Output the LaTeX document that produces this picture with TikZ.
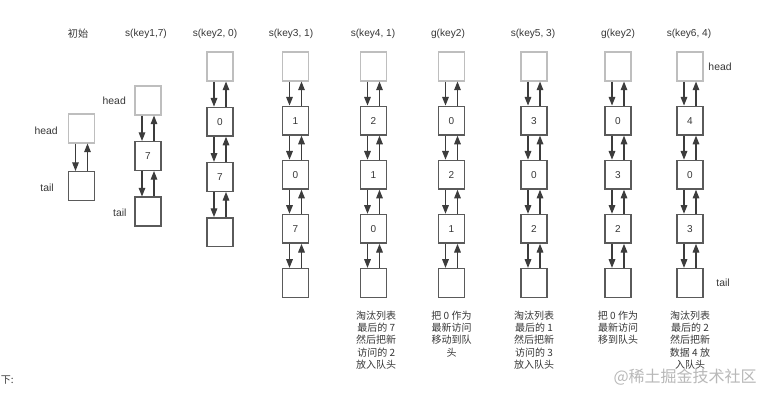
\documentclass[tikz,border=0pt]{standalone}
\usepackage{fontspec}
\setmainfont{Liberation Sans}
\newfontfamily\cjk{Noto Sans CJK SC}
\usepackage{xcolor}
\usepackage{tikz}
\usetikzlibrary{positioning,arrows.meta}
\definecolor{boxgray}{RGB}{90,90,90}
\definecolor{headgray}{RGB}{190,190,190}
\definecolor{linkgray}{RGB}{60,60,60}
\definecolor{textgray}{RGB}{55,55,55}

\begin{document}
\begin{tikzpicture}[x=0.75pt, y=-0.75pt,
					box/.style={
						draw=boxgray, line width=1.1pt, fill=white,
						minimum width=19.2pt, minimum height=21.5pt, inner sep=0pt,
						font=\fontsize{7.5}{9}\selectfont, text=textgray
					},
					headbox/.style={box, draw=headgray},
					link/.style={draw=linkgray, line width=0.8pt, -{Triangle[length=6.5pt,width=5pt]}},
					title/.style={font=\fontsize{7.6}{9}\selectfont, text=textgray},
					endlabel/.style={font=\fontsize{7.8}{9}\selectfont, text=textgray, inner sep=0pt},
					note/.style={font=\cjk\fontsize{7.5}{9.2}\selectfont, text=textgray, align=center, inner sep=0pt}
					]
					\useasboundingbox[fill=white] (0,0) rectangle (771,400);
					% Mỗi cột: head, các phần tử, tail
					\foreach \col/\cx/\cy/\dy/\n/\vals in {
						1/81.5/128.5/57.5/0/{},
						2/148/100.5/55.5/1/{7},
						3/220/66.5/55.2/2/{0,7},
						4/295.5/66.5/54.1/3/{1,0,7},
						5/373.5/66.5/54.1/3/{2,1,0},
						6/451.5/66.5/54.1/3/{0,2,1},
						7/534/66.5/54.1/3/{3,0,2},
						8/618/66.5/54.1/3/{0,3,2},
						9/690/66.5/54.1/3/{4,0,3}}{
						\node[headbox] (c\col-0) at (\cx,\cy) {};
						\ifnum\n>0
							\foreach \v [count=\i] in \vals {
								\node[box] (c\col-\i) at (\cx,\cy+\i*\dy) {\v};
							}
						\fi
						\pgfmathtruncatemacro\last{\n+1}
						\node[box] (c\col-\last) at (\cx,\cy+\last*\dy) {};
						% mũi tên hai chiều giữa các ô
						\foreach \i in {1,...,\last}{
							\pgfmathtruncatemacro\j{\i-1}
							\draw[link] ([xshift=-4.5pt]c\col-\j.south) -- ([xshift=-4.5pt]c\col-\i.north);
							\draw[link] ([xshift=4.5pt]c\col-\i.north) -- ([xshift=4.5pt]c\col-\j.south);
						}
					}
					% Tiêu đề các bước
					\node[title] (t1) at (78,34)  {\cjk 初始};
					\node[title] (t2) at (146,34) {s(key1,7)};
					\node[title] (t3) at (215,34) {s(key2, 0)};
					\node[title] (t4) at (291,34) {s(key3, 1)};
					\node[title] (t5) at (373,34) {s(key4, 1)};
					\node[title] (t6) at (448,34) {g(key2)};
					\node[title] (t7) at (533,34) {s(key5, 3)};
					\node[title] (t8) at (618,34) {g(key2)};
					\node[title] (t9) at (689,34) {s(key6, 4)};
					% head / tail
					\node[endlabel, left=7.5pt of c1-0, yshift=-1.9pt] (head1) {head};
					\node[endlabel, left=10.5pt of c1-1, yshift=-1.5pt] (tail1) {tail};
					\node[endlabel, left=6.3pt of c2-0] (head2) {head};
					\node[endlabel, left=5.8pt of c2-2, yshift=-1pt] (tail2) {tail};
					\node[endlabel, right=3.5pt of c9-0] (head9) {head};
					\node[endlabel, right=9.5pt of c9-4] (tail9) {tail};
					% Ghi chú dưới cột
					\node[note, below=9.5pt of c5-4, xshift=2pt] (n5) {淘汰列表\\最后的 7\\然后把新\\访问的 2\\放入队头};
					\node[note, below=9.5pt of c6-4] (n6) {把 0 作为\\最新访问\\移动到队\\头};
					\node[note, below=9.5pt of c7-4] (n7) {淘汰列表\\最后的 1\\然后把新\\访问的 3\\放入队头};
					\node[note, below=9.5pt of c8-4] (n8) {把 0 作为\\最新访问\\移到队头};
					\node[note, below=9.5pt of c9-4] (n9) {淘汰列表\\最后的 2\\然后把新\\数据 4 放\\入队头};
					\node[anchor=west, inner sep=0pt, font=\cjk\fontsize{7.5}{9}\selectfont, text=textgray] (cut) at (0.5,380) {下:};
					\node[anchor=east, inner sep=0pt, font=\cjk\fontsize{12}{14}\selectfont, text=black!28] (mark) at (757,377) {@稀土掘金技术社区};
				\end{tikzpicture}
\end{document}
